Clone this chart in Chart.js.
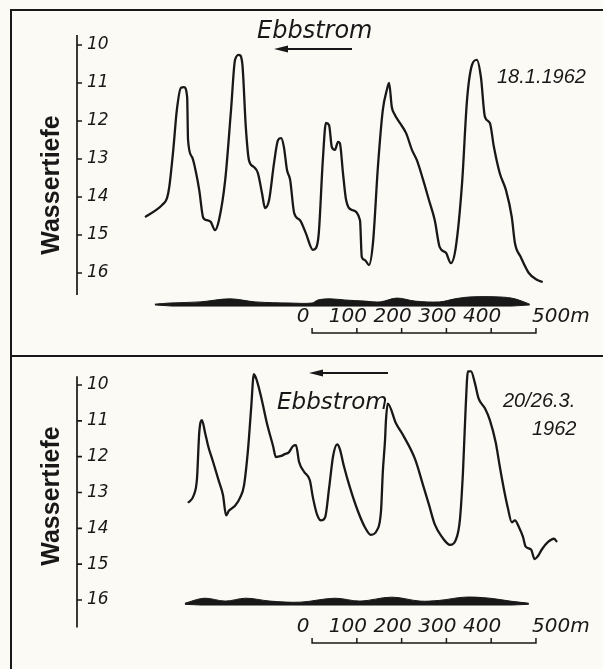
<!DOCTYPE html>
<html>
<head>
<meta charset="utf-8">
<script src="https://cdn.jsdelivr.net/npm/chart.js@4.4.1/dist/chart.umd.min.js"></script>
<style>
  body { margin: 0; background: #fbfaf5; }
  #page { position: relative; width: 603px; height: 669px; overflow: hidden; }
  canvas { position: absolute; left: 0; }
  .rule { position: absolute; background: #181818; }
</style>
</head>
<body>
<div id="page">
  <canvas id="topChart" width="603" height="356" style="top:0"></canvas>
  <canvas id="bottomChart" width="603" height="313" style="top:356px"></canvas>
  <div class="rule" style="left:10px;top:9px;width:593px;height:2px"></div>
  <div class="rule" style="left:10px;top:9px;width:2px;height:660px"></div>
  <div class="rule" style="left:10px;top:355px;width:593px;height:2px"></div>
</div>
<script>
'use strict';
// profile distance in m (from left end of the upper profile), depth in m
let topDist = [0, 25, 38, 49, 54, 63, 71, 80, 87, 94,
  96, 105, 114, 121, 130, 138, 147, 156, 165, 179,
  192, 201, 210, 217, 225, 232, 243, 252, 261, 268,
  277, 288, 297, 304, 310, 317, 324, 333, 346, 359,
  375, 382, 388, 397, 404, 411, 417, 424, 431, 435,
  442, 449, 462, 480, 484, 491, 500, 509, 520, 531,
  540, 545, 551, 558, 569, 583, 596, 607, 621, 634,
  647, 658, 672, 683, 694, 708, 719, 730, 741, 750,
  759, 770, 779, 792, 806, 819, 826, 839, 857, 875, 888];
let topDepth = [14.53, 14.34, 14.21, 14.03, 13.74, 12.76, 11.71, 11.13, 11.11, 11.37,
  12.50, 12.95, 13.37, 13.82, 14.55, 14.61, 14.66, 14.87, 14.61, 13.55,
  11.71, 10.39, 10.26, 10.47, 12.16, 13.03, 13.21, 13.37, 13.89, 14.29,
  14.08, 13.11, 12.50, 12.45, 12.68, 13.29, 13.55, 14.42, 14.61, 14.95,
  15.39, 15.34, 14.95, 13.03, 12.05, 12.11, 12.68, 12.76, 12.55, 12.58,
  13.37, 14.08, 14.34, 14.61, 15.58, 15.66, 15.79, 15.21, 13.21, 11.71,
  11.18, 11.00, 11.63, 11.84, 12.05, 12.32, 12.76, 13.03, 13.55, 14.08,
  14.61, 15.32, 15.47, 15.74, 15.32, 13.63, 11.45, 10.53, 10.39, 10.84,
  11.89, 12.05, 12.68, 13.37, 13.82, 14.53, 15.21, 15.58, 16.00, 16.18, 16.24];

let bottomDist = [96, 109, 116, 121, 127, 134, 141, 152, 165, 174,
  181, 187, 201, 212, 221, 230, 237, 243, 250, 261,
  272, 286, 292, 304, 312, 321, 330, 337, 344, 355,
  368, 375, 384, 393, 402, 411, 420, 429, 435, 444,
  458, 475, 491, 504, 518, 527, 531, 536, 538, 542,
  560, 578, 603, 621, 634, 647, 663, 681, 694, 703,
  710, 716, 721, 728, 737, 745, 759, 770, 783, 792,
  801, 810, 819, 826, 835, 844, 850, 862, 870, 877,
  886, 900, 913, 920];
let bottomDepth = [13.29, 13.07, 12.61, 11.33, 10.98, 11.33, 11.71, 12.15, 12.69, 13.07,
  13.64, 13.51, 13.37, 13.15, 12.80, 11.79, 10.63, 9.70, 9.89, 10.43,
  11.06, 11.71, 12.01, 11.98, 11.93, 11.88, 11.71, 11.68, 12.15, 12.42,
  12.66, 13.15, 13.61, 13.78, 13.70, 12.88, 11.98, 11.66, 11.79, 12.26,
  12.88, 13.51, 13.97, 14.18, 14.05, 13.51, 12.42, 11.52, 10.98, 10.52,
  11.06, 11.44, 12.07, 12.80, 13.34, 13.89, 14.24, 14.46, 14.32, 13.78,
  12.42, 10.63, 9.62, 9.62, 9.97, 10.38, 10.65, 10.98, 11.60, 12.26,
  12.88, 13.42, 13.83, 13.78, 13.97, 14.24, 14.51, 14.59, 14.86, 14.78,
  14.59, 14.38, 14.29, 14.38];

// small black bed profile under each panel (top edge and base)
let topBedDist = [22, 56, 123, 190, 246, 324, 373, 386, 413, 446, 491, 525, 562, 603, 658, 692, 725, 792, 826, 859];
let topBedTop = [16.82, 16.79, 16.76, 16.68, 16.76, 16.79, 16.79, 16.71, 16.68, 16.71, 16.74, 16.76, 16.66, 16.74, 16.76, 16.68, 16.63, 16.63, 16.68, 16.82];
let topBedBaseDist = [22, 60, 820, 859];
let topBedBase = [16.84, 16.87, 16.87, 16.84];

let bottomBedDist = [89, 132, 179, 225, 279, 346, 424, 480, 551, 614, 658, 714, 770, 815, 857];
let bottomBedTop = [16.09, 15.95, 16.03, 15.95, 16.03, 16.06, 15.95, 16.03, 15.92, 16.03, 16.01, 15.92, 15.95, 16.03, 16.09];
let bottomBedBaseDist = [89, 125, 820, 857];
let bottomBedBase = [16.12, 16.14, 16.14, 16.12];

let depthTicks = [10, 11, 12, 13, 14, 15, 16];
let scaleValues = [0, 100, 200, 300, 400, 500];
let scaleLabels = ['0', '100', '200', '300', '400', '500m'];
let scaleStart = 373; // where the 0 of the scale bar sits on the profile

let ink = '#181818';

function pairs(xs, ys) {
  let out = [];
  for (let i = 0; i < xs.length; i++) {
    out.push({ x: xs[i], y: ys[i] });
  }
  return out;
}

// draws the hand-lettered bits: axis line with ticks to the right, scale bar, labels
let sketchPlugin = {
  id: 'sketch',
  afterDraw(chart, args, o) {
    let ctx = chart.ctx;
    let xs = chart.scales.x;
    let ys = chart.scales.y;
    let left = chart.chartArea.left;
    ctx.save();
    ctx.strokeStyle = ink;
    ctx.fillStyle = ink;

    ctx.lineWidth = 1.7;
    ctx.beginPath();
    ctx.moveTo(left, ys.getPixelForValue(o.axisFrom));
    ctx.lineTo(left, ys.getPixelForValue(o.axisTo));
    ys.ticks.forEach(t => {
      let py = ys.getPixelForValue(t.value);
      ctx.moveTo(left, py);
      ctx.lineTo(left + 5, py);
    });
    ctx.stroke();

    // scale bar
    let px = scaleValues.map(v => xs.getPixelForValue(scaleStart + v));
    ctx.lineWidth = 1.5;
    ctx.beginPath();
    ctx.moveTo(px[0], o.barY);
    ctx.lineTo(px[px.length - 1], o.barY);
    px.forEach(p => {
      ctx.moveTo(p, o.barY + 0.7);
      ctx.lineTo(p, o.barY - 5);
    });
    ctx.stroke();
    ctx.font = 'italic 20px "DejaVu Sans"';
    ctx.textBaseline = 'alphabetic';
    scaleLabels.forEach((s, i) => {
      if (i === scaleLabels.length - 1) {
        ctx.textAlign = 'left';
        ctx.fillText(s, px[i] - 4, o.labelY);
      } else {
        ctx.textAlign = 'center';
        ctx.fillText(s, px[i] - 9, o.labelY);
      }
    });

    // Ebbstrom with arrow
    ctx.font = 'italic ' + o.ebb.size + 'px "DejaVu Sans"';
    ctx.textAlign = 'left';
    ctx.fillText('Ebbstrom', o.ebb.x, o.ebb.y);
    ctx.lineWidth = 2;
    ctx.beginPath();
    ctx.moveTo(o.ebb.ax1 + 8, o.ebb.ay);
    ctx.lineTo(o.ebb.ax2, o.ebb.ay);
    ctx.stroke();
    ctx.beginPath();
    ctx.moveTo(o.ebb.ax1, o.ebb.ay);
    ctx.lineTo(o.ebb.ax1 + 14, o.ebb.ay - 3.5);
    ctx.lineTo(o.ebb.ax1 + 14, o.ebb.ay + 3.5);
    ctx.closePath();
    ctx.fill();

    // date
    ctx.font = 'italic 20px "Liberation Sans"';
    o.date.forEach(d => {
      ctx.fillText(d.text, d.x, d.y);
    });

    // axis title
    ctx.font = 'bold 25px "Liberation Sans"';
    ctx.textAlign = 'center';
    ctx.textBaseline = 'middle';
    ctx.translate(o.titleX, o.titleY);
    ctx.rotate(-Math.PI / 2);
    ctx.fillText('Wassertiefe', 0, 0);
    ctx.restore();
  }
};

function makeChart(id, dist, depth, bedDist, bedTop, baseDist, base, yMin, yMax, pad, sketch) {
  let ctx = document.getElementById(id).getContext('2d');
  return new Chart(ctx, {
    type: 'line',
    data: {
      datasets: [{
        data: pairs(dist, depth),
        borderColor: ink,
        borderWidth: 2.3,
        pointRadius: 0,
        cubicInterpolationMode: 'monotone',
        clip: false,
        fill: false
      },
      {
        data: pairs(baseDist, base),
        borderColor: ink,
        borderWidth: 1,
        pointRadius: 0,
        fill: false
      },
      {
        data: pairs(bedDist, bedTop),
        borderColor: ink,
        borderWidth: 1,
        backgroundColor: ink,
        pointRadius: 0,
        tension: 0.35,
        fill: '-1'
      }]
    },
    options: {
      responsive: false,
      animation: false,
      layout: { padding: pad },
      plugins: {
        legend: { display: false },
        tooltip: { enabled: false },
        sketch: sketch
      },
      scales: {
        x: { type: 'linear', min: -152, max: 1016, display: false },
        y: {
          type: 'linear',
          reverse: true,
          min: yMin,
          max: yMax,
          afterBuildTicks: s => { s.ticks = depthTicks.map(v => ({ value: v })); },
          afterFit: s => { s.width = 0; },
          grid: { display: false },
          border: { display: false },
          ticks: {
            mirror: true,
            padding: 10,
            color: ink,
            font: { family: 'DejaVu Sans', style: 'italic', size: 17 }
          }
        }
      }
    },
    plugins: [sketchPlugin]
  });
}

makeChart('topChart', topDist, topDepth, topBedDist, topBedTop, topBedBaseDist, topBedBase,
  9.737, 16.921, { left: 77, right: 3, top: 35, bottom: 48 }, {
    axisFrom: 9.737, axisTo: 16.58, barY: 333, labelY: 322,
    ebb: { x: 257, y: 38, size: 24, ax1: 274, ax2: 352, ay: 49 },
    date: [{ text: '18.1.1962', x: 497, y: 83 }],
    titleX: 52, titleY: 185
  });

makeChart('bottomChart', bottomDist, bottomDepth, bottomBedDist, bottomBedTop, bottomBedBaseDist, bottomBedBase,
  9.755, 16.223, { left: 77, right: 3, top: 14, bottom: 61 }, {
    axisFrom: 9.755, axisTo: 16.77, barY: 287, labelY: 276,
    ebb: { x: 277, y: 53, size: 23, ax1: 309, ax2: 388, ay: 17 },
    date: [{ text: '20/26.3.', x: 503, y: 51 }, { text: '1962', x: 532, y: 79 }],
    titleX: 52, titleY: 140
  });
</script>
</body>
</html>
